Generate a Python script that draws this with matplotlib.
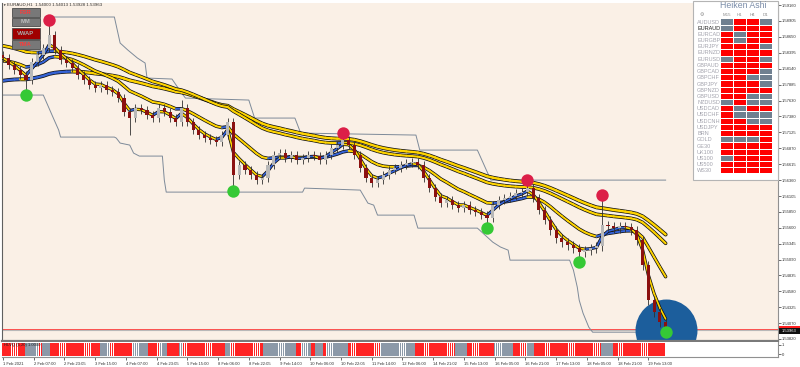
import numpy as np
import matplotlib.pyplot as plt
from matplotlib.collections import LineCollection
from matplotlib.patches import Rectangle

plt.rcParams['font.family'] = ['Liberation Sans', 'DejaVu Sans']

# EURAUD H1, one candle kept every 3 hourly bars
closes = [1.58312, 1.5820, 1.5812, 1.5804, 1.5796, 1.58248, 1.5836, 1.58472, 1.5868, 1.5844,
          1.5828, 1.58232, 1.58152, 1.5804, 1.5796, 1.5788, 1.57832, 1.5788, 1.5780, 1.57768,
          1.57672, 1.57448, 1.57352, 1.57512, 1.5748, 1.5740, 1.57352, 1.57512, 1.57448, 1.57352,
          1.57288, 1.57512, 1.57288, 1.5716, 1.5708, 1.57032, 1.5700, 1.56968, 1.5708, 1.57288,
          1.5644, 1.5660, 1.5652, 1.5644, 1.5636, 1.56392, 1.5660, 1.5676, 1.56792, 1.56712,
          1.5676, 1.5668, 1.56712, 1.5676, 1.56744, 1.5668, 1.5676, 1.56872, 1.5692, 1.5700,
          1.5692, 1.5676, 1.56552, 1.56392, 1.56312, 1.5636, 1.5644, 1.5652, 1.56552, 1.5660,
          1.56632, 1.56648, 1.5660, 1.56392, 1.56232, 1.56088, 1.55992, 1.5604, 1.5596, 1.55912,
          1.5596, 1.5588, 1.55848, 1.5580, 1.55752, 1.5596, 1.5604, 1.56072, 1.56104, 1.56152,
          1.56168, 1.56232, 1.56072, 1.5588, 1.5572, 1.5556, 1.55432, 1.55368, 1.5532, 1.55272,
          1.55208, 1.5524, 1.55272, 1.55304, 1.5564, 1.55624, 1.55592, 1.55624, 1.55608, 1.5556,
          1.5540, 1.5500, 1.5444, 1.54248, 1.54088, 1.53963]
first_open = 1.5836
high_spikes = {8: 1.5892, 31: 1.5764, 59: 1.57112, 91: 1.5636, 104: 1.5612}
low_spikes = {4: 1.5772, 22: 1.5708, 40: 1.56184, 84: 1.55592, 100: 1.55048, 115: 1.53928}
red_signals = [8, 59, 91, 104]
green_signals = [4, 40, 84, 100, 115]
bars_per_candle = 3

# moving averages: (span in candles, starting value)
ma_slow = (40, 1.5793)
ma_mid = (32, 1.5852)
ma_med = (12, 1.5826)
ma_fast = (3, 1.5831)

upper_band_i = [22, 58, 61, 65, 70, 74, 75, 88, 93, 95, 128, 131, 152, 155, 215, 217, 247, 254, 345]
upper_band_p = [1.58968, 1.58968, 1.58552, 1.5844, 1.58312, 1.58232, 1.57992, 1.57976, 1.57752, 1.57672,
                1.5764, 1.57352, 1.57352, 1.57112, 1.5708, 1.5684, 1.5684, 1.5636, 1.5636]
lower_band_i = [0, 21, 26, 29, 30, 58, 59, 61, 66, 68, 71, 83, 84, 85, 156, 157, 186, 190, 193, 195,
                214, 216, 247, 255, 259, 263, 264, 295, 297, 299, 300, 302, 305, 307, 345]
lower_band_p = [1.5772, 1.5772, 1.57368, 1.5716, 1.57048, 1.57048, 1.57032, 1.56952, 1.5692, 1.56792,
                1.56744, 1.56744, 1.5636, 1.56168, 1.56168, 1.56232, 1.562, 1.55992, 1.5596, 1.5580,
                1.5580, 1.55592, 1.55592, 1.55368, 1.5529, 1.5524, 1.5508, 1.5508, 1.5492, 1.54648,
                1.5444, 1.54232, 1.54008, 1.53928, 1.53928]

bid = 1.53963
ask = 1.53985

price_ticks = [1.59160, 1.58905, 1.58650, 1.58395, 1.58140, 1.57885, 1.57630, 1.57380, 1.57125,
               1.56870, 1.56615, 1.56360, 1.56105, 1.55850, 1.55600, 1.55345, 1.55090, 1.54835,
               1.54580, 1.54325, 1.54070, 1.53820]
date_labels = ["1 Feb 2021", "2 Feb 07:00", "2 Feb 23:05", "3 Feb 15:00", "4 Feb 07:00", "4 Feb 23:05",
               "5 Feb 15:00", "8 Feb 06:00", "8 Feb 22:05", "9 Feb 14:00", "10 Feb 06:00", "10 Feb 22:05",
               "11 Feb 14:00", "12 Feb 06:00", "14 Feb 21:02", "15 Feb 13:00", "16 Feb 05:00",
               "16 Feb 21:00", "17 Feb 13:00", "18 Feb 05:00", "18 Feb 21:00", "19 Feb 13:00"]
date_step = 16

# HLVQ strip: run lengths in hourly bars, alternating red / grey, starting red
hlvq_runs = [12, 7, 2, 4, 26, 5, 12, 8, 6, 4, 6, 2, 22, 3, 17, 17, 3, 5, 2, 4, 2, 11, 17, 18, 21, 6,
             14, 10, 7, 4, 35, 6, 27]

# Heiken Ashi panel (M15, H1, H4, D1): R red, G grey
ha_symbols = ["AUDUSD", "EURAUD", "EURCAD", "EURGBP", "EURJPY", "EURNZD", "EURUSD", "GBPAUD", "GBPCAD",
              "GBPCHF", "GBPJPY", "GBPNZD", "GBPUSD", "NZDUSD", "USDCAD", "USDCHF", "USDCNH", "USDJPY",
              "BRN", "GOLD", "GE30", "UK100", "US100", "US500", "WS30"]
ha_states = ["GRRG", "GRRR", "RGRR", "RGRR", "RRRG", "RRRR", "GRRG", "RRRR", "RRRG", "RRGG", "RRRG",
             "RRRR", "RRGG", "GRGG", "RGRR", "RGGG", "RRGG", "RRRR", "RRRR", "GGGR", "RRRR", "RRRR",
             "GRRR", "RRRR", "RRRR"]
ha_frames = ["M15", "H1", "H4", "D1"]


def ema(values, span, seed):
    a = 2.0 / (span + 1)
    out = []
    v = seed
    for x in values:
        v = v + a * (x - v)
        out.append(v)
    return np.array(out)


c = np.array(closes)
o = np.r_[first_open, c[:-1]]
wick = 0.0007
hi = np.maximum(o, c) + wick
lo = np.minimum(o, c) - wick
for k, v in high_spikes.items():
    hi[k] = v
for k, v in low_spikes.items():
    lo[k] = v
xs = np.arange(len(c)) * bars_per_candle

fig = plt.figure(figsize=(8, 3.67), dpi=100)
H = 367.0
ax = fig.add_axes([2 / 800, (H - 341) / H, 776 / 800, 338 / H])
ax.set_facecolor('#faf0e6')
ax.set_xlim(-0.5, 403.5)
ax.set_ylim(1.53787, 1.59192)

# bid / ask lines
ax.axhline(ask, color='#ff3030', lw=0.6, zorder=1)
ax.axhline(bid, color='#b8b8b8', lw=0.8, zorder=1)

# bands
ax.plot(upper_band_i, upper_band_p, color='#7d8a99', lw=0.7, zorder=1.2)
ax.plot(lower_band_i, lower_band_p, color='#7d8a99', lw=0.7, zorder=1.2)

# big circle on the last candle
ax.scatter([xs[-1]], [c[-1]], s=1990, color='#1c5e9c', zorder=1.5, linewidths=0)


def ma_line(y, lw, z):
    ax.plot(xs, y, color='#111111', lw=lw + 1.1, solid_capstyle='round', zorder=z)
    pts = np.column_stack([xs, y])
    segs = np.stack([pts[:-1], pts[1:]], axis=1)
    cols = np.where(np.diff(y) > 0, '#3563d6', '#ffd400')
    ax.add_collection(LineCollection(segs, colors=cols, lw=lw, zorder=z + 0.1, capstyle='round'))


ma_line(ema(c, *ma_slow), 1.7, 2)
ma_line(ema(c, *ma_mid), 1.5, 2.2)
ma_line(ema(c, *ma_med), 1.4, 2.4)
ma_line(ema(c, *ma_fast), 1.2, 2.6)

# candles
ax.vlines(xs, lo, hi, color='#303030', lw=0.6, zorder=3)
up = c >= o
ax.bar(xs, c - o, bottom=o, width=1.6, color=np.where(up, '#b8b8b8', '#8b1010'),
       edgecolor='none', zorder=3.5)

# signal dots
ax.scatter(xs[red_signals], hi[red_signals], s=80, color='#dc1f48', zorder=6, linewidths=0)
ax.scatter(xs[green_signals], lo[green_signals], s=80, color='#35c935', zorder=6, linewidths=0)

ax.yaxis.tick_right()
ax.set_yticks(price_ticks)
ax.set_yticklabels([f'{p:.5f}' for p in price_ticks])
ax.tick_params(axis='y', labelsize=3, length=2, width=0.5, pad=1, colors='#303030')
ax.set_xticks([])
ax.spines['top'].set_visible(False)
ax.spines['left'].set_color('#606060')
ax.spines['left'].set_linewidth(0.8)
ax.spines['right'].set_color('#909090')
ax.spines['right'].set_linewidth(0.8)
ax.spines['bottom'].set_color('#7a7a7a')
ax.spines['bottom'].set_linewidth(1.6)

# HLVQ strip
ax2 = fig.add_axes([2 / 800, (H - 357) / H, 776 / 800, 15 / H])
ax2.set_xlim(-0.5, 403.5)
ax2.set_ylim(-0.333, 1.333)
strip_cols = []
for n, run in enumerate(hlvq_runs):
    strip_cols += [('#ff2424' if n % 2 == 0 else '#8c99a8')] * run
ax2.bar(np.arange(len(strip_cols)), 1.45, bottom=-0.25, width=0.85, color=strip_cols, zorder=2)
ax2.text(0.8, 0.95, 'HLVQ (5,20) 1.0000', fontsize=3, color='#202020', va='center', zorder=3)
ax2.yaxis.tick_right()
ax2.set_yticks([0, 1])
ax2.tick_params(axis='y', labelsize=3, length=2, width=0.5, pad=1, colors='#303030')
ax2.set_xticks(np.arange(len(date_labels)) * date_step)
ax2.set_xticklabels(date_labels, ha='left')
ax2.tick_params(axis='x', labelsize=3, length=2, width=0.5, pad=1.5, colors='#303030')
for s in ['top', 'left']:
    ax2.spines[s].set_visible(False)
ax2.spines['right'].set_color('#909090')
ax2.spines['bottom'].set_color('#909090')
ax2.spines['right'].set_linewidth(0.8)
ax2.spines['bottom'].set_linewidth(0.8)

# overlay: title, buttons, panel, price boxes (pixel coordinates)
ov = fig.add_axes([0, 0, 1, 1], zorder=10)
ov.set_xlim(0, 800)
ov.set_ylim(H, 0)
ov.axis('off')
ov.patch.set_alpha(0)

ov.text(2, 4.5, '\u25BC', fontsize=2.5, color='#303030', va='center')
ov.text(7, 4.5, 'EURAUD,H1  1.54000 1.54013 1.53928 1.53963', fontsize=3.2, color='#303030', va='center')

buttons = [("FSR", '#787878', '#ff3a3a', 8, 8.5), ("MM", '#787878', '#bcbcbc', 17.5, 8.5),
           ("VWAP", '#a00000', '#a8a8a8', 28, 11), ("TMA", '#787878', '#ff3a3a', 40, 9)]
for lab, fc, tc, top, h in buttons:
    ov.add_patch(Rectangle((11.5, top), 28, h, fc=fc, ec='#4a4a4a', lw=0.6, zorder=1))
    ov.text(25.5, top + h / 2, lab, fontsize=4.2, color=tc, ha='center', va='center',
            fontweight='bold', zorder=5)

ov.add_patch(Rectangle((693, 1), 85, 179, fc='white', ec='#b4b4b4', lw=0.8))
ov.text(743, 6, 'Heiken Ashi', fontsize=6.3, color='#7a8ca8', ha='center', va='center')
ov.text(702, 14, '\u2699', fontsize=3.5, color='#8a8a8a', ha='center', va='center')
for j, fr in enumerate(ha_frames):
    ov.text(726.5 + j * 13, 15, fr, fontsize=3.2, color='#8a8a8a', ha='center', va='center')
for r, (sym, st) in enumerate(zip(ha_symbols, ha_states)):
    yy = 22 + r * 6.2
    ov.text(697, yy, sym, fontsize=4.0, va='center',
            color='#202020' if sym == 'EURAUD' else '#a3a3ad')
    for j, ch in enumerate(st):
        ov.add_patch(Rectangle((721 + j * 13, yy - 2.6), 11.5, 5.2, lw=0,
                               fc='#ff0000' if ch == 'R' else '#708090'))

ov.add_patch(Rectangle((779, 325.5), 21, 3, fc='#ff2020', lw=0))
ov.add_patch(Rectangle((779, 328), 21, 5.5, fc='#101010', lw=0))
ov.text(789.5, 330.8, f'{bid:.5f}', fontsize=3, color='white', ha='center', va='center')

fig.savefig('out.png', dpi=100)
